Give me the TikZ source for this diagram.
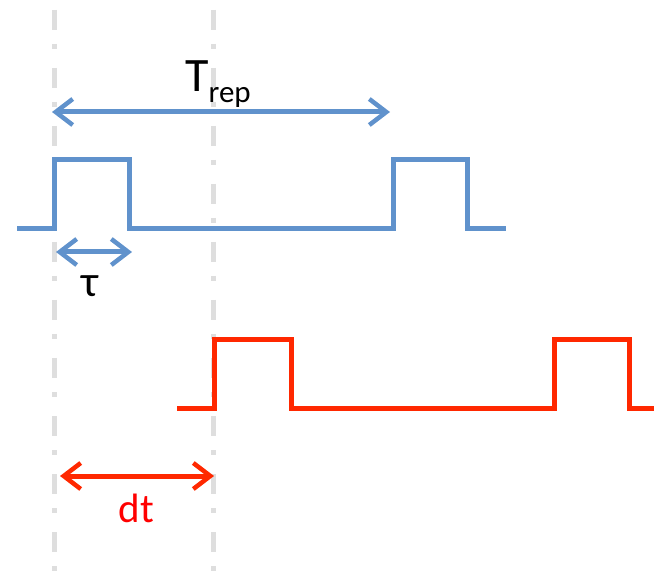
\documentclass[tikz,border=0pt]{standalone}
\usepackage{fontspec}
\setmainfont{Carlito}
\usetikzlibrary{arrows.meta}
\definecolor{sigblue}{RGB}{96,146,204}
\definecolor{sigred}{RGB}{255,40,0}
\definecolor{lblred}{RGB}{255,0,0}
\definecolor{guide}{RGB}{222,222,222}
\tikzset{
  guideline/.style={guide, line width=5pt, dash pattern=on 20pt off 14pt on 5pt off 19pt},
  signal/.style={line width=5pt, line join=miter},
  dimarrow/.style={line width=5pt, {Straight Barb[length=17pt,width=26pt,line width=4.5pt]}-{Straight Barb[length=17pt,width=26pt,line width=4.5pt]}},
  lbl/.style={inner sep=0pt}
}
\begin{document}
\begin{tikzpicture}[x=1pt,y=-1pt]
\useasboundingbox (0,0) rectangle (654,588);
% guide lines
\coordinate (g1top) at (54,10);
\coordinate (g1bot) at (54,588);
\coordinate (g2top) at (213,10);
\coordinate (g2bot) at (213,588);
\draw[guideline] (g1top) -- (g1bot);
\draw[guideline] (g2top) -- (g2bot);
% blue signal
\draw[signal, sigblue] (17,229) -- (54,229) -- (54,160) -- (129,160) -- (129,229) -- (393,229) -- (393,160) -- (467,160) -- (467,229) -- (506,229);
% red signal
\draw[signal, sigred] (177,408) -- (214,408) -- (214,340) -- (291,340) -- (291,408) -- (554,408) -- (554,340) -- (629,340) -- (629,408) -- (654,408);
% Trep arrow
\coordinate (trepL) at (52,112);
\coordinate (trepR) at (390,112);
\draw[dimarrow, sigblue] (trepL) -- (trepR);
\node[lbl, anchor=base west] (trep) at (185,92) {\fontsize{48}{50}\selectfont T\raisebox{-11pt}{\fontsize{31}{32}\selectfont rep}};
% tau arrow
\coordinate (tauL) at (56,252);
\coordinate (tauR) at (132,252);
\draw[dimarrow, sigblue] (tauL) -- (tauR);
\node[lbl, anchor=base] (tau) at (90,297) {\fontsize{44}{46}\selectfont τ};
% dt arrow
\coordinate (dtL) at (60,476);
\coordinate (dtR) at (214,476);
\draw[dimarrow, sigred] (dtL) -- (dtR);
\node[lbl, anchor=base, text=lblred] (dt) at (136.5,522) {\fontsize{41}{43}\selectfont dt};
\end{tikzpicture}
\end{document}
